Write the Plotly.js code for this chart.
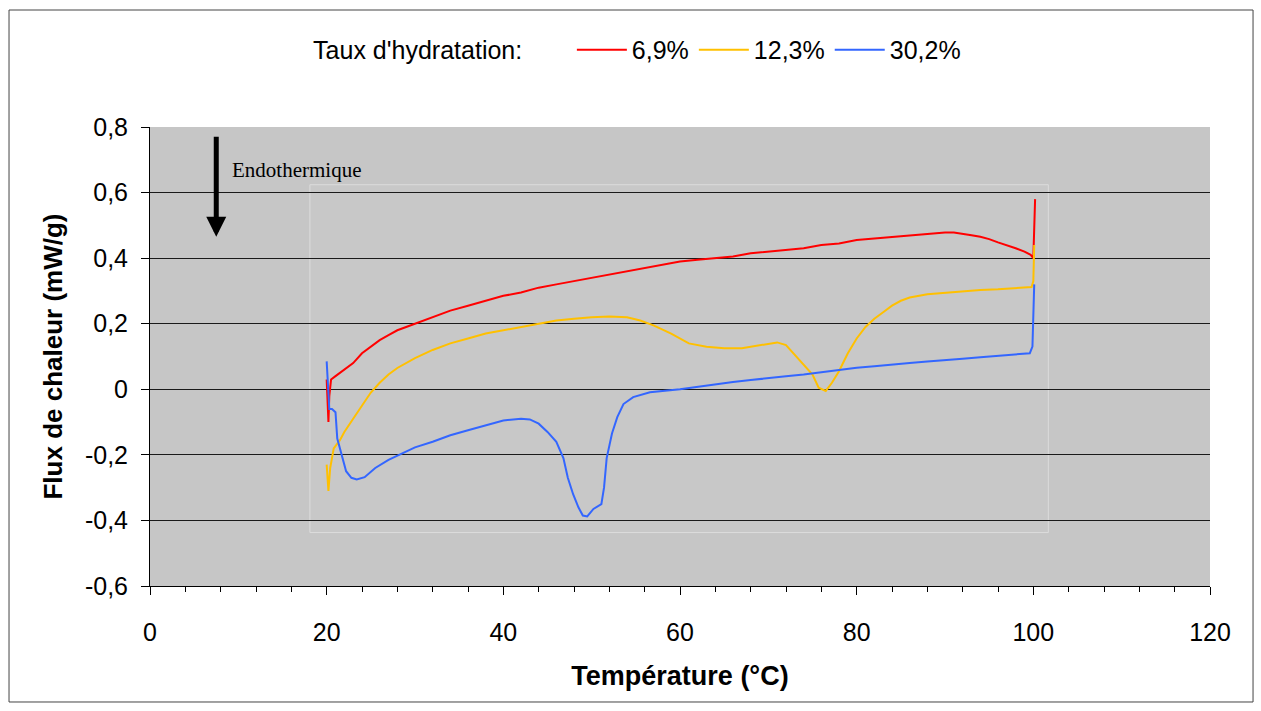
<!DOCTYPE html>
<html>
<head>
<meta charset="utf-8">
<script src="https://cdn.plot.ly/plotly-3.0.1.min.js"></script>
<style>html,body{margin:0;padding:0;background:#fff;}#chart{width:1261px;height:711px;}</style>
</head>
<body>
<div id="chart"></div>
<script>
// Series names
const seriesNames = ['6,9%', '12,3%', '30,2%'];
const legendTitle = "Taux d'hydratation:";

// 6,9 %
const redX = [20.0,20.1,20.2,20.3,20.5,21,22,23,24,25,26,27,28,29,30,32,34,36,38,40,42,44,46,48,50,52,54,56,58,60,62,64,66,68,70,72,74,76,78,80,82,84,86,88,90,91,92,93,94,95,96,97,98,99,99.7,100,100.1,100.2];
const redY = [0.03,-0.05,-0.10,-0.02,0.03,0.04,0.06,0.08,0.11,0.13,0.15,0.165,0.18,0.19,0.20,0.22,0.24,0.255,0.27,0.285,0.295,0.31,0.32,0.33,0.34,0.35,0.36,0.37,0.38,0.39,0.395,0.40,0.405,0.415,0.42,0.425,0.43,0.44,0.445,0.455,0.46,0.465,0.47,0.475,0.478,0.478,0.475,0.47,0.465,0.458,0.448,0.44,0.43,0.42,0.41,0.40,0.50,0.58];

// 12,3 %
const yelX = [20.0,20.1,20.2,20.4,20.8,21.5,22,23,24,25,26,27,28,29,30,32,34,36,38,40,42,44,46,48,50,52,54,55.5,57,59,61,63,65,67,69,71,72,73,74,75,75.7,76.5,77.2,78,79,80,81,82,83,84,85,86,88,90,92,94,96,98,99.8,100,100.1];
const yelY = [-0.23,-0.28,-0.31,-0.24,-0.18,-0.155,-0.13,-0.09,-0.05,-0.01,0.02,0.045,0.065,0.08,0.095,0.12,0.14,0.155,0.17,0.18,0.19,0.20,0.21,0.215,0.22,0.222,0.22,0.21,0.195,0.17,0.14,0.13,0.125,0.125,0.135,0.143,0.135,0.105,0.075,0.045,0.005,-0.005,0.02,0.055,0.11,0.155,0.19,0.215,0.235,0.255,0.27,0.28,0.29,0.295,0.30,0.303,0.305,0.308,0.312,0.33,0.44];

// 30,2 %
const bluX = [20.0,20.1,20.3,20.6,21.0,21.2,21.5,21.8,22.2,22.8,23.4,24.3,25.5,27,29,30,32,34,36,38,40,42,43,44,45,46,46.8,47.3,47.9,48.5,49.0,49.5,50.2,51.1,51.4,51.7,52.3,52.9,53.6,54.7,56.6,60,62,64,66,68,70,72,74,76,78,80,82,84,86,88,90,92,94,96,98,99.6,99.9,100.1];
const bluY = [0.085,0.03,-0.06,-0.06,-0.07,-0.15,-0.18,-0.21,-0.25,-0.27,-0.275,-0.268,-0.24,-0.215,-0.19,-0.177,-0.16,-0.14,-0.125,-0.11,-0.095,-0.09,-0.092,-0.105,-0.13,-0.16,-0.21,-0.27,-0.32,-0.36,-0.385,-0.388,-0.365,-0.35,-0.30,-0.21,-0.135,-0.085,-0.045,-0.024,-0.009,0,0.008,0.015,0.022,0.028,0.035,0.04,0.045,0.052,0.06,0.066,0.07,0.076,0.08,0.085,0.088,0.093,0.098,0.102,0.105,0.11,0.13,0.32];

// Tick labels
const xTickVals = [0,20,40,60,80,100,120];
const xTickText = ['0','20','40','60','80','100','120'];
const yTickVals = [-0.6,-0.4,-0.2,0,0.2,0.4,0.6,0.8];
const yTickText = ['-0,6','-0,4','-0,2','0','0,2','0,4','0,6','0,8'];

const colors = ['#ff0000', '#ffc000', '#3366ff'];

const traces = [
  {x: redX, y: redY, name: seriesNames[0]},
  {x: yelX, y: yelY, name: seriesNames[1]},
  {x: bluX, y: bluY, name: seriesNames[2]}
].map((t, i) => Object.assign(t, {type: 'scatter', mode: 'lines', line: {color: colors[i], width: 2}}));

const font = {family: 'Liberation Sans, Arial, sans-serif', color: '#000'};

const layout = {
  width: 1261, height: 711,
  margin: {l: 150, r: 51, t: 127, b: 125, pad: 0},
  paper_bgcolor: '#ffffff',
  plot_bgcolor: '#c6c6c6',
  font: Object.assign({size: 25}, font),
  showlegend: true,
  legend: {
    orientation: 'h', x: 0.152, xanchor: 'left', y: 1.168, yanchor: 'middle',
    title: {text: legendTitle + '\u00a0\u00a0\u00a0\u00a0\u00a0\u00a0', side: 'left', font: Object.assign({size: 25}, font)},
    font: Object.assign({size: 25}, font),
    bgcolor: 'rgba(0,0,0,0)', itemwidth: 50, tracegroupgap: 0
  },
  xaxis: {
    range: [0, 120], tickvals: xTickVals, ticktext: xTickText,
    ticks: 'outside', ticklen: 8, tickcolor: '#000', tickwidth: 1,
    ticklabelstandoff: 16,
    minor: {dtick: 4, tick0: 0, ticks: 'outside', ticklen: 5, tickcolor: '#000', showgrid: false},
    showline: true, linecolor: '#000', linewidth: 1,
    showgrid: false, zeroline: false,
    tickfont: Object.assign({size: 25}, font),
    title: {text: '<b>Température (°C)</b>', font: Object.assign({size: 27}, font), standoff: 21}
  },
  yaxis: {
    range: [-0.6, 0.8], tickvals: yTickVals, ticktext: yTickText,
    ticks: 'outside', ticklen: 8, tickcolor: '#000', tickwidth: 1,
    ticklabelstandoff: 8,
    showline: true, linecolor: '#000', linewidth: 1,
    showgrid: true, gridcolor: '#1a1a1a', gridwidth: 1, zeroline: false,
    tickfont: Object.assign({size: 25}, font),
    title: {text: '<b>Flux de chaleur (mW/g)</b>', font: Object.assign({size: 26}, font), standoff: 14}
  },
  shapes: [
    {type: 'rect', xref: 'x', yref: 'y', x0: 18.1, x1: 101.7, y0: -0.437, y1: 0.624,
     line: {color: '#dcdcdc', width: 1}, fillcolor: 'rgba(255,255,255,0.05)', layer: 'below'},
    {type: 'rect', xref: 'paper', yref: 'paper', x0: -0.133, x1: 1.0406, y0: -0.2527, y1: 1.2549,
     line: {color: '#444', width: 1}, fillcolor: 'rgba(0,0,0,0)'}
  ],
  annotations: [
    {x: 7.5, y: 0.465, ax: 7.5, ay: 0.775, xref: 'x', yref: 'y', axref: 'x', ayref: 'y',
     showarrow: true, arrowhead: 2, arrowsize: 0.8, arrowwidth: 5, arrowcolor: '#000', text: ''},
    {x: 9.0, y: 0.67, xref: 'x', yref: 'y', xanchor: 'left', yanchor: 'middle', showarrow: false,
     text: 'Endothermique', font: {family: 'Liberation Serif, Times New Roman, serif', size: 21, color: '#000'}}
  ]
};

Plotly.newPlot('chart', traces, layout, {displayModeBar: false, staticPlot: true});
</script>
</body>
</html>
